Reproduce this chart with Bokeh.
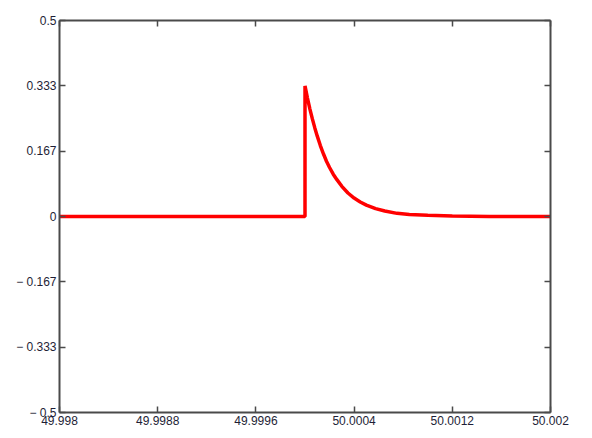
from bokeh.plotting import figure
from bokeh.models import FixedTicker, LinearAxis, Range1d
from bokeh.embed import file_html
from bokeh.resources import INLINE

# Pulse response: flat at zero, jumps at t = 50.0, then decays back to zero
t_values = [49.998, 50.0, 50.0, 50.00002, 50.00004, 50.00006, 50.00008,
            50.0001, 50.000125, 50.00015, 50.000175, 50.0002, 50.00023,
            50.00026, 50.0003, 50.00035, 50.0004, 50.00045, 50.0005,
            50.000575, 50.00065, 50.00075, 50.00085, 50.001, 50.0012,
            50.0015, 50.002]
v_values = [0.0, 0.0, 0.333, 0.302, 0.274, 0.249, 0.226,
            0.205, 0.181, 0.160, 0.141, 0.125, 0.108,
            0.094, 0.077, 0.060, 0.047, 0.037, 0.029,
            0.020, 0.014, 0.008, 0.005, 0.003, 0.001,
            0.0, 0.0]

x_ticks = [49.998, 49.9988, 49.9996, 50.0004, 50.0012, 50.002]
x_tick_labels = ["49.998", "49.9988", "49.9996", "50.0004", "50.0012", "50.002"]
y_ticks = [-0.5, -0.333, -0.167, 0.0, 0.167, 0.333, 0.5]
y_tick_labels = ["\u2212 0.5", "\u2212 0.333", "\u2212 0.167", "0", "0.167", "0.333", "0.5"]

FONT = "Liberation Sans"
LABEL_COLOR = "#1e1e36"
AXIS_COLOR = "#4a4a4a"

p = figure(width=592, height=438, output_backend="svg", toolbar_location=None,
           x_range=Range1d(49.998, 50.002), y_range=Range1d(-0.5, 0.5),
           x_axis_location=None, y_axis_location=None,
           min_border_left=59, min_border_right=42,
           min_border_top=20, min_border_bottom=26)
p.background_fill_color = "white"
p.border_fill_color = "white"
p.outline_line_color = None
p.xgrid.visible = False
p.ygrid.visible = False

def make_axis(ticks, labels, show_labels):
    ax = LinearAxis(ticker=FixedTicker(ticks=ticks))
    ax.major_label_overrides = dict(zip(ticks, labels))
    ax.axis_line_color = AXIS_COLOR
    ax.axis_line_width = 2
    ax.major_tick_line_color = AXIS_COLOR
    ax.major_tick_line_width = 1.5
    ax.major_tick_in = 6
    ax.major_tick_out = 0
    ax.minor_tick_line_color = None
    ax.major_label_text_font = FONT
    ax.major_label_text_font_size = "12px"
    ax.major_label_text_color = LABEL_COLOR
    ax.major_label_standoff = 3
    if not show_labels:
        ax.major_label_text_font_size = "0px"
        ax.major_label_text_color = None
    return ax

p.add_layout(make_axis(x_ticks, x_tick_labels, True), "below")
p.add_layout(make_axis(x_ticks, x_tick_labels, False), "above")
p.add_layout(make_axis(y_ticks, y_tick_labels, True), "left")
p.add_layout(make_axis(y_ticks, y_tick_labels, False), "right")

p.line(t_values, v_values, line_color="#ff0000", line_width=3.5,
       line_join="bevel")

open("out.html", "w").write(file_html(p, INLINE))
